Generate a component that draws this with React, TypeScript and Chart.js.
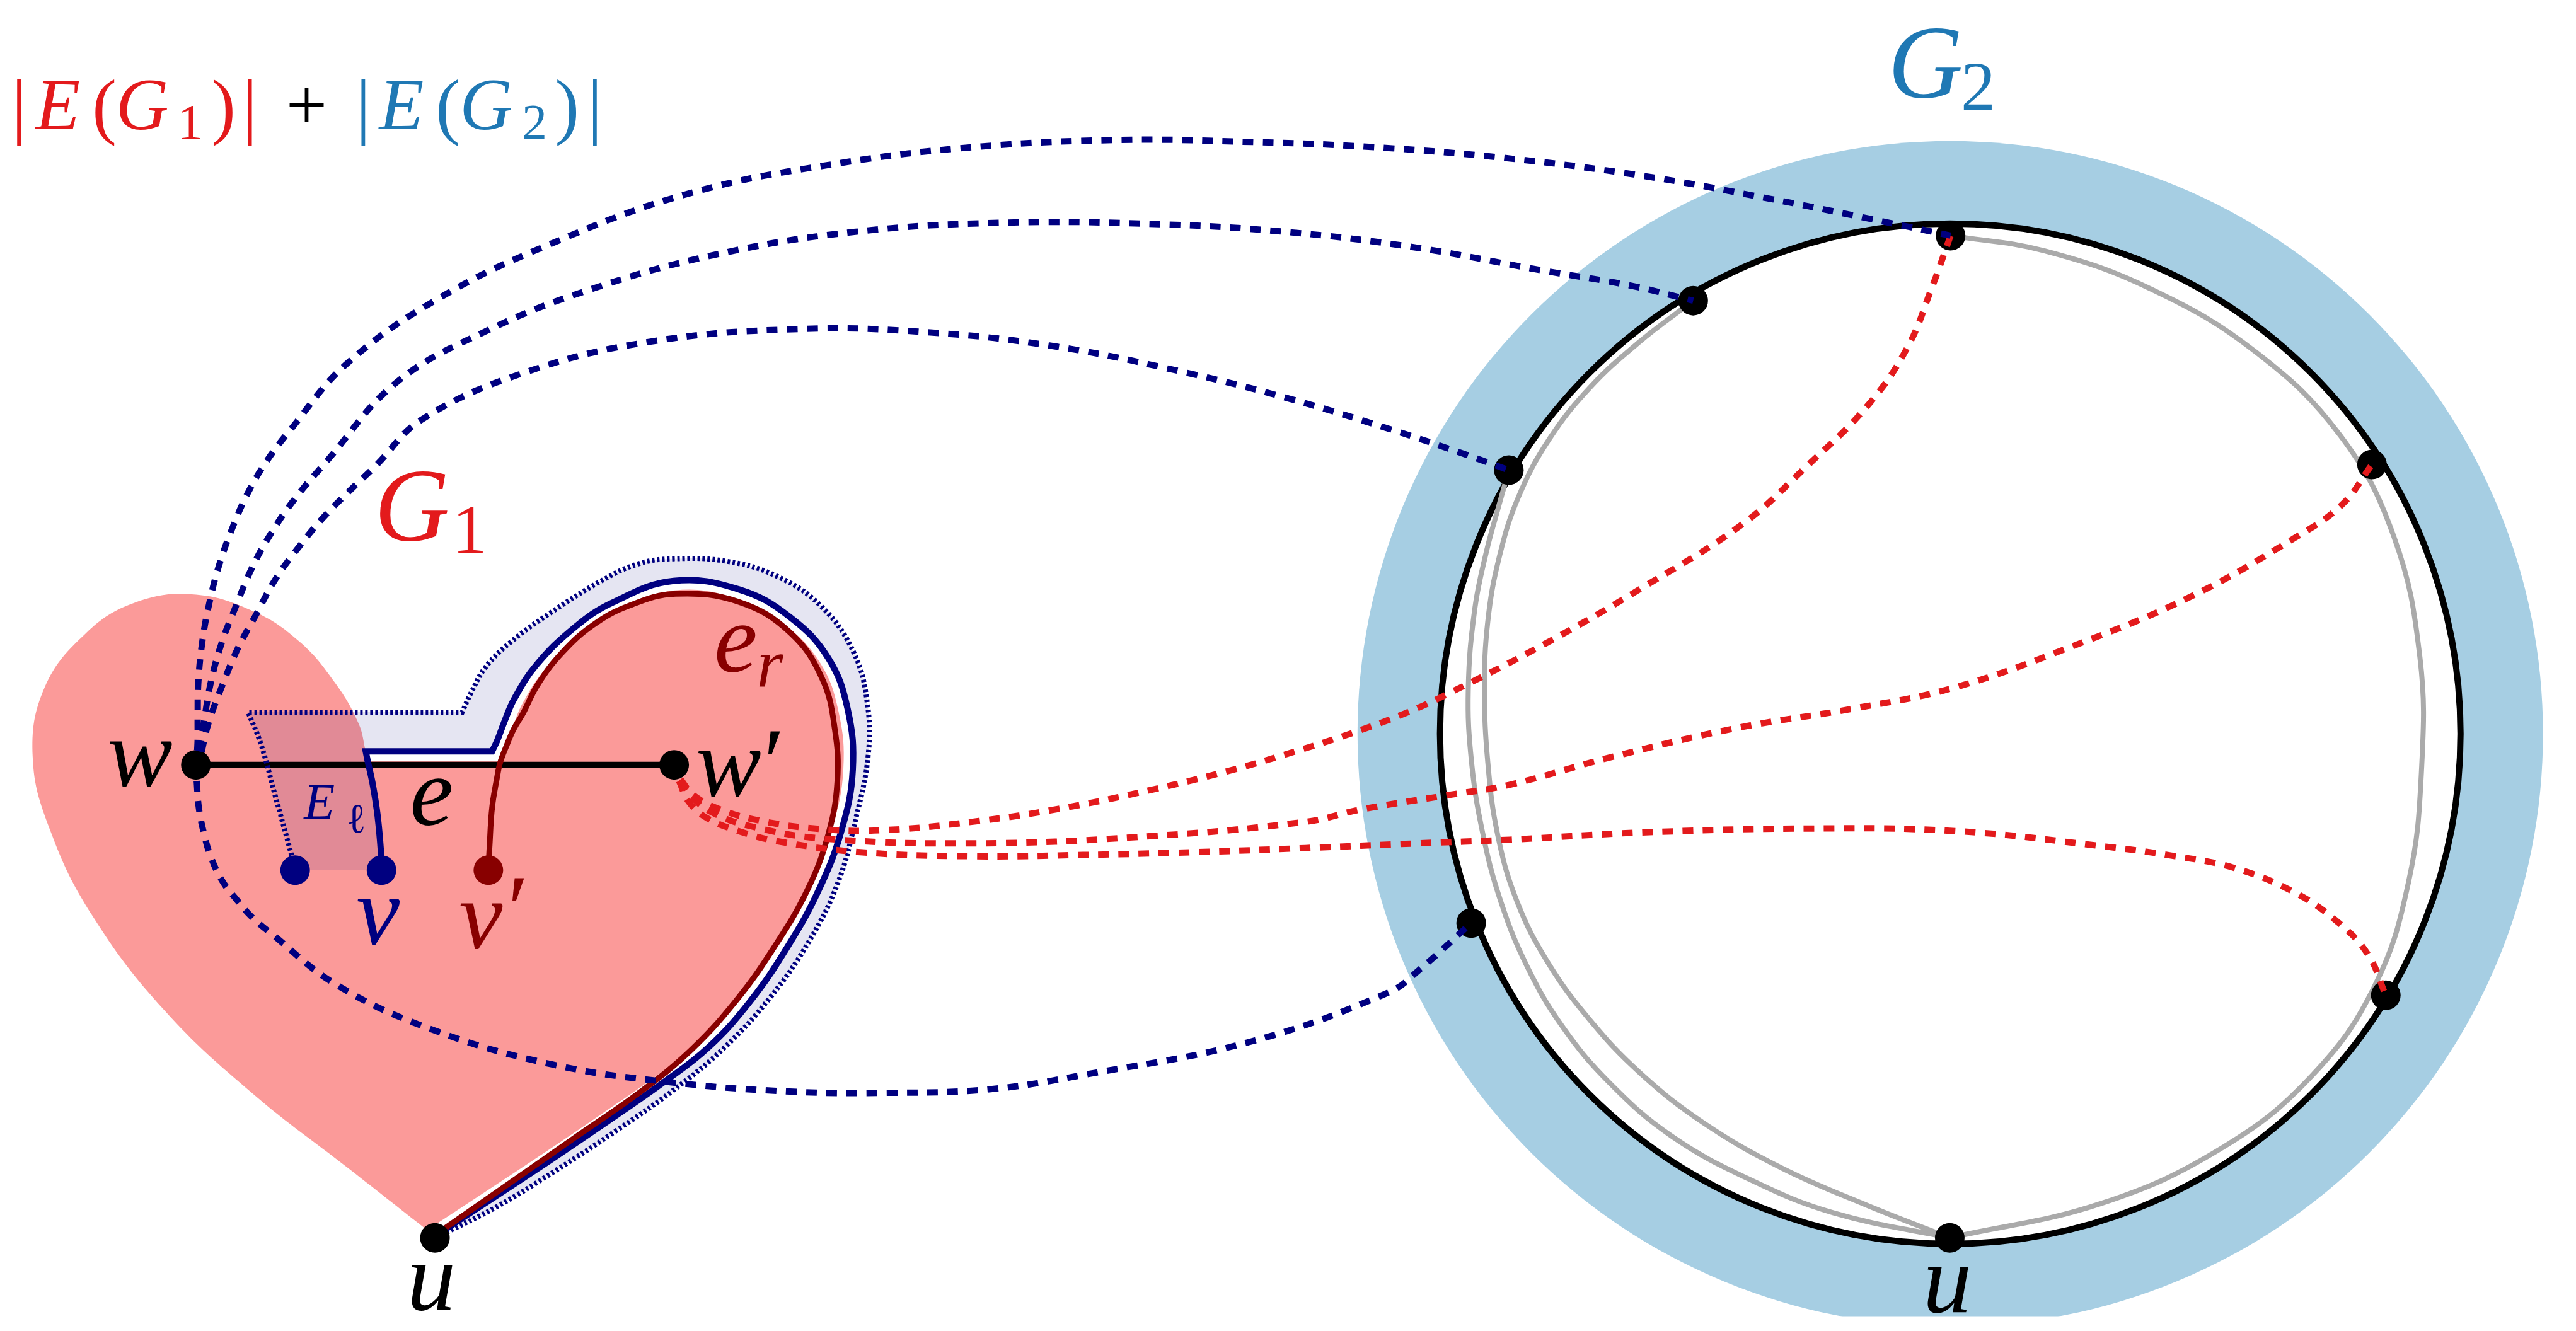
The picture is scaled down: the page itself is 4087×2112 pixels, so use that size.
import React, { useEffect, useRef } from 'react';
import { Chart, registerables } from 'chart.js';

Chart.register(...registerables);

// Coordinate system: diagram units (1 unit = 2.6065 px of the 4087x2112 canvas)
const W = 1568;
const H = 810.28;

const RED = '#e31a1c';
const BLUE = '#1f78b4';
const NAVY = '#000080';
const DARKRED = '#880000';
const PINK = '#fb9a99';
const RING = '#a6cee3';
const GRAY = '#aaaaaa';
const FONT_FAMILY = '"Liberation Serif"';

// G2 big circle
const ringCenter = [1191.8, 447.6];
const ringOuterR = 365;
const circleR = 314.2;

// Nodes
const nodesG2 = [[1192, 137.5], [1033.5, 178], [920, 283.5], [896.8, 565.5], [1191.5, 761.5], [1451.5, 280], [1460, 610.5]];
const nodesG1 = [[111.5, 467], [406, 467], [258.7, 761.5]];
const nodesBlue = [[172.6, 532.6], [225.8, 532.6]];
const nodesRed = [[291.6, 532.6]];

// edge e
const edgeE = [[111.5, 467], [406, 467]];

// blue solid path v -> corner -> around -> u (third value 1 = sharp corner)
const bluePath = [
  [225.8, 532.6], [225.5, 521.8], [223.4, 498.7], [220.5, 479.6], [217.6, 466], [216.1, 458.6, 1],
  [293.9, 458.6, 1], [297, 452], [301.5, 440], [307.5, 426], [321, 405], [344.5, 381.6], [368, 366],
  [405.6, 352.5], [446, 357.8], [477.6, 375.2], [501, 400.7], [512.9, 432.5], [516, 470], [509, 508],
  [495, 545], [476, 580], [453, 614], [427, 643], [399, 665], [365, 689], [330, 713], [294, 737], [258.7, 760.5],
];
const blueCornerIndex = 5;

// dotted outline of E_l region
const dottedPath = [
  [172.6, 532.6], [170.6, 524], [160.3, 486], [151.5, 454], [143.6, 434.2, 1],
  [275.5, 434.2, 1], [281, 422], [290, 406], [306, 390], [328.9, 373], [360.2, 353], [383.7, 341.9],
  [405.6, 338.7], [438.5, 340.3], [469.8, 349.8], [497.2, 368.9], [516.8, 397.5], [525, 429],
  [525.5, 461], [518, 500], [507, 540], [489, 577], [465, 612], [437, 643], [405, 670], [370, 695],
  [334, 719], [297, 742], [260, 761],
];

// left half of the heart, from the tip u up to the notch
const heartLeft = [
  [258.7, 760.5], [205.5, 718.3], [146.8, 672], [91.8, 619.5], [47.7, 560.8], [22, 508.3], [11, 462],
  [18.4, 418.7], [44, 384.8], [73.4, 366.2], [108.9, 360.8], [145.6, 370.8], [175, 390], [197, 415.6],
  [211.7, 441.2], [216.1, 458.6, 1],
];

// edge e_r
const darkRedPath = [
  [291.6, 532.6], [292.4, 516.6], [293.9, 493.6], [296.8, 475.7], [298.9, 465.5], [302.7, 455.3],
  [307.1, 445], [313, 434.8], [322, 417], [336.7, 397.5], [356, 380], [378, 368], [407, 360.5],
  [446.3, 365.7], [477.6, 384.8], [497.2, 413.4], [505, 445.2], [506.5, 477], [501, 510], [488, 545],
  [466, 583], [444, 614], [417, 644], [386, 670], [345, 699], [299, 731.5], [260, 759],
];

// grey edges inside G2
const grayRight = [
  [1192, 137.5], [1250, 147], [1316, 171], [1380, 210], [1432, 262], [1465, 325], [1481, 400],
  [1482, 470], [1474, 540], [1453, 605], [1415, 660], [1360, 705], [1285, 740], [1191.5, 761.5],
];
const grayLeftInner = [
  [1033.5, 178], [1000, 204], [970, 232], [945, 264], [926, 300], [914, 338], [907, 378], [905, 420],
  [907, 465], [913, 510], [925, 552], [944, 590], [970, 626], [1001, 659], [1040, 690], [1088, 718],
  [1140, 741], [1191.5, 761.5],
];
const grayLeftOuter = [
  [920, 283.5], [914, 305], [906, 335], [899, 370], [895, 420], [897, 465], [904, 510], [915, 552],
  [931, 592], [953, 630], [982, 665], [1020, 698], [1068, 725], [1120, 746], [1191.5, 761.5],
];

// dashed blue edges from w
const blueDashTop = [
  [112.3, 458], [112.6, 451], [112.6, 438.6], [113, 415.6], [115.5, 390], [119.9, 365.7], [125.8, 342.7],
  [133.9, 319.7], [143.4, 297.9], [155, 278], [170, 258], [203.6, 218], [258.4, 178.1], [328.9, 143.1],
  [415, 111.3], [509, 92.2], [595.1, 82], [681.2, 77.9], [751.7, 78.9], [830, 82], [916.1, 89],
  [1002.2, 100.2], [1080.5, 114.5], [1143.2, 127.2], [1192, 137.5],
];
const blueDashMid = [
  [113.5, 458.5], [116.3, 441.2], [120.7, 415.6], [127.3, 391.3], [136.1, 368.3], [145.6, 345.3],
  [157.4, 323.5], [172.1, 301.8], [192, 278], [234.9, 229], [289.7, 197.2], [352.4, 171.7],
  [430.7, 149.5], [516.8, 135.2], [610.7, 129.4], [704.7, 130.4], [783, 135.2], [861.3, 144.7],
  [939.6, 159], [994.4, 168.5], [1033.5, 178],
];
const blueDashIn = [
  [115, 459], [119.2, 441.2], [128, 416.9], [137.6, 393.9], [148.6, 373.4], [160.3, 351.7], [175, 331.2],
  [189.7, 313.3], [205.8, 296.7], [222, 281], [250.6, 252], [313.2, 223], [391.5, 203.5], [485.5, 195.6],
  [563.8, 197.8], [642.1, 206.7], [720.4, 222.6], [783, 238.5], [845.6, 257.6], [892.6, 273.5], [920, 283.5],
];
const blueDashLow = [
  [112, 477], [113.3, 493.6], [116.3, 509], [120.7, 524.3], [128, 539.7], [136.8, 551.2], [145.6, 561.4],
  [157.4, 571.6], [198.2, 604], [256.9, 631.8], [330.3, 653.4], [401, 664.3], [477.1, 670.4],
  [537.8, 671.2], [600, 669], [657.7, 660.1], [760.4, 639.5], [846, 608.7], [865.2, 594.3], [896.8, 565.5],
];

// dashed red edges from w'
const redTop = [
  [410, 476], [418, 486], [435, 495], [460, 502], [496.7, 507], [534.4, 507.7], [589.2, 502.5],
  [640.6, 494.8], [698.8, 482.8], [750.2, 470], [787.9, 458.8], [822.1, 447.7], [856.4, 434.8],
  [883.6, 422.2], [942.3, 391.6], [1001, 357.4], [1064, 317], [1103, 281.5], [1141.2, 243],
  [1165.6, 206.8], [1180.2, 170.6], [1192, 137.5],
];
const redMid = [
  [410, 477], [418, 488], [430, 497], [452.2, 505], [496.7, 512.8], [589.2, 515.9], [692, 511.9],
  [794.7, 502.5], [828.9, 494.8], [880.3, 486.2], [920, 479.5], [981.5, 462.6], [1059.7, 444.2],
  [1131.8, 432], [1194.7, 418.8], [1267.7, 392.9], [1340.6, 361.9], [1403.9, 325.7], [1433, 305],
  [1451.5, 280],
];
const redLow = [
  [409, 477], [415, 490], [426, 500], [445, 508], [469.3, 514.5], [520.7, 521.4], [589.2, 523.9],
  [657.7, 523.1], [726.2, 521.4], [794.7, 518.8], [863.2, 515.9], [920.7, 513.6], [1000.2, 509.2],
  [1097.5, 506.7], [1194.7, 508.2], [1287.5, 517.9], [1327.9, 523.5], [1366, 531], [1403, 546],
  [1430, 564.5], [1449, 585], [1460, 610.5],
];

// text labels
const labels = [
  { s: '|', x: 2.6, y: 72, size: 116, c: RED },
  { s: 'E', x: 26.5, y: 71.4, size: 116, c: RED, it: true },
  { s: '(', x: 55.1, y: 72, size: 116, c: RED },
  { s: 'G', x: 78.5, y: 71.4, size: 116, c: RED, it: true },
  { s: '1', x: 108, y: 77.4, size: 80, c: RED },
  { s: ')', x: 128.5, y: 72, size: 116, c: RED },
  { s: '|', x: 144.8, y: 72, size: 116, c: RED },
  { s: '+', x: 179.7, y: 71.4, size: 116, c: '#000000' },
  { s: '|', x: 214.6, y: 72, size: 116, c: BLUE },
  { s: 'E', x: 238.1, y: 71.4, size: 116, c: BLUE, it: true },
  { s: '(', x: 266.7, y: 72, size: 116, c: BLUE },
  { s: 'G', x: 290.2, y: 71.4, size: 116, c: BLUE, it: true },
  { s: '2', x: 320, y: 77.4, size: 80, c: BLUE },
  { s: ')', x: 340.1, y: 72, size: 116, c: BLUE },
  { s: '|', x: 357.2, y: 72, size: 116, c: BLUE },
  { s: 'G', x: 244.5, y: 327.4, size: 165, c: RED, it: true },
  { s: '1', x: 280, y: 335, size: 110, c: RED },
  { s: 'G', x: 1176.5, y: 51.5, size: 165, c: BLUE, it: true },
  { s: '2', x: 1209, y: 59, size: 110, c: BLUE },
  { s: 'w', x: 77, y: 480.2, size: 155, c: '#000000', it: true },
  { s: 'w', x: 439.5, y: 486, size: 155, c: '#000000', it: true },
  { s: '\u2032', x: 467.6, y: 486, size: 155, c: '#000000' },
  { s: 'e', x: 256.7, y: 504, size: 155, c: '#000000', it: true },
  { s: 'E', x: 187.5, y: 500.3, size: 80, c: NAVY, it: true },
  { s: '\u2113', x: 210.2, y: 509, size: 66, c: NAVY },
  { s: 'v', x: 223.6, y: 578, size: 155, c: NAVY, it: true },
  { s: 'v', x: 287, y: 581, size: 155, c: DARKRED, it: true },
  { s: '\u2032', x: 310, y: 577.5, size: 155, c: DARKRED },
  { s: 'e', x: 444, y: 408.6, size: 155, c: DARKRED, it: true },
  { s: 'r', x: 465, y: 418, size: 108, c: DARKRED, it: true },
  { s: 'u', x: 256.5, y: 806, size: 155, c: '#000000', it: true },
  { s: 'u', x: 1190, y: 807.8, size: 155, c: '#000000', it: true },
];

function pts(list: number[][]) {
  const out: { x: number; y: number }[] = [];
  for (const p of list) {
    out.push({ x: p[0], y: p[1] });
    if (p[2]) out.push({ x: p[0], y: p[1] });
  }
  return out;
}

function unitPx(chart: any) {
  const s = chart.scales.x;
  return s.getPixelForValue(1) - s.getPixelForValue(0);
}

function lineDs(list: number[][], color: string, width: number, order: number, extra: any = {}) {
  return {
    type: 'line',
    data: pts(list),
    borderColor: color,
    borderWidth: width,
    pointRadius: 0,
    pointHoverRadius: 0,
    tension: 0.4,
    fill: false,
    borderCapStyle: 'butt',
    borderJoinStyle: 'miter',
    order,
    ...extra,
  };
}

function fillDs(list: number[][], color: string, order: number) {
  return {
    type: 'line',
    data: pts(list),
    borderColor: 'transparent',
    borderWidth: 0,
    backgroundColor: color,
    pointRadius: 0,
    pointHoverRadius: 0,
    tension: 0.4,
    fill: 'shape',
    order,
  };
}

function nodeDs(list: number[][], color: string, order: number) {
  return {
    type: 'line',
    data: pts(list),
    showLine: false,
    pointRadius: 23.5,
    pointHoverRadius: 23.5,
    pointBackgroundColor: color,
    pointBorderWidth: 0,
    order,
  };
}

const textPlugin = {
  id: 'diagramTexts',
  afterDatasetsDraw(chart: any) {
    const ctx = chart.ctx;
    const xs = chart.scales.x;
    const ys = chart.scales.y;
    for (const l of labels) {
      ctx.save();
      ctx.font = `${l.it ? 'italic ' : ''}${l.size}px ${FONT_FAMILY}`;
      ctx.fillStyle = l.c;
      ctx.textAlign = 'center';
      ctx.textBaseline = 'alphabetic';
      ctx.fillText(l.s, xs.getPixelForValue(l.x), ys.getPixelForValue(l.y));
      ctx.restore();
    }
  },
};

export default function App() {
  const ref = useRef<HTMLCanvasElement | null>(null);

  useEffect(() => {
    if (!ref.current) return;
    const heart = heartLeft.concat(bluePath.slice(blueCornerIndex + 1));
    const halo = bluePath.slice(blueCornerIndex);
    const last = dottedPath[dottedPath.length - 1];
    const lavender = dottedPath
      .slice(0, dottedPath.length - 1)
      .concat([[last[0], last[1], 1]])
      .concat(bluePath.slice().reverse().map((p, i, a) => (i === a.length - 1 ? [p[0], p[1], 1] : p)))
      .concat([[dottedPath[0][0], dottedPath[0][1]]]);

    const dash = [17, 15];
    const datasets: any[] = [
      {
        type: 'line',
        data: [{ x: ringCenter[0], y: ringCenter[1] }],
        showLine: false,
        pointRadius: (c: any) => ringOuterR * unitPx(c.chart),
        pointBackgroundColor: RING,
        pointBorderWidth: 0,
        order: 30,
      },
      {
        type: 'line',
        data: [{ x: ringCenter[0], y: ringCenter[1] }],
        showLine: false,
        pointRadius: (c: any) => circleR * unitPx(c.chart),
        pointBackgroundColor: '#ffffff',
        pointBorderColor: '#000000',
        pointBorderWidth: 10,
        order: 29,
      },
      fillDs(heart, PINK, 28),
      lineDs(halo, '#ffffff', 30, 27),
      fillDs(lavender, 'rgba(0,0,128,0.1)', 26),
      lineDs(grayRight, GRAY, 8, 25),
      lineDs(grayLeftInner, GRAY, 8, 25),
      lineDs(grayLeftOuter, GRAY, 8, 25),
      lineDs(edgeE, '#000000', 10, 24, { tension: 0 }),
      lineDs(bluePath, NAVY, 10, 23),
      lineDs(darkRedPath, DARKRED, 9, 22),
      lineDs(dottedPath, NAVY, 8, 21, { borderDash: [4, 4] }),
      nodeDs(nodesG2, '#000000', 20),
      nodeDs(nodesG1, '#000000', 20),
      nodeDs(nodesBlue, NAVY, 20),
      nodeDs(nodesRed, DARKRED, 20),
      lineDs(blueDashTop, NAVY, 10, 10, { borderDash: dash }),
      lineDs(blueDashMid, NAVY, 10, 10, { borderDash: dash }),
      lineDs(blueDashIn, NAVY, 10, 10, { borderDash: dash }),
      lineDs(blueDashLow, NAVY, 10, 10, { borderDash: dash }),
      lineDs(redTop, RED, 10, 10, { borderDash: dash }),
      lineDs(redMid, RED, 10, 10, { borderDash: dash }),
      lineDs(redLow, RED, 10, 10, { borderDash: dash }),
    ];

    const chart = new Chart(ref.current, {
      type: 'line',
      data: { datasets },
      options: {
        animation: false,
        responsive: false,
        maintainAspectRatio: false,
        events: [],
        layout: { padding: 0 },
        plugins: {
          legend: { display: false },
          tooltip: { enabled: false },
          title: { display: false },
        },
        scales: {
          x: { type: 'linear', min: 0, max: W, display: false },
          y: { type: 'linear', min: 0, max: H, reverse: true, display: false },
        },
      },
      plugins: [textPlugin],
    } as any);

    return () => {
      chart.destroy();
    };
  }, []);

  return (
    <div style={{ position: 'absolute', left: 0, top: 0, width: 4087, height: 2112, background: '#ffffff' }}>
      <canvas ref={ref} width={4087} height={2112} style={{ display: 'block', width: 4087, height: 2112 }} />
    </div>
  );
}
